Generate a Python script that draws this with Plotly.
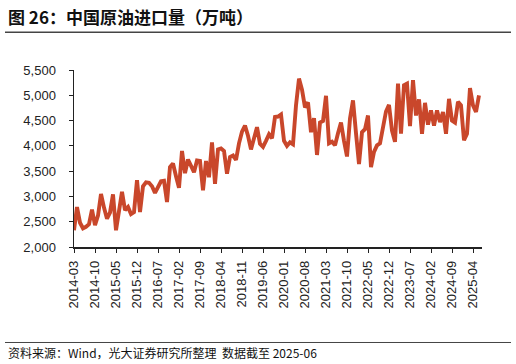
import plotly.graph_objects as go

# Monthly categories 2014-03 .. 2025-06
months = [f"{y}-{m:02d}" for y in range(2014, 2026) for m in range(1, 13)]
months = months[months.index("2014-03"):months.index("2025-06") + 1]

# China crude oil imports (10k tonnes)
imports = [
    2330, 2790, 2480, 2370, 2400, 2450, 2740, 2430, 2620, 3050,   # 2014-03..2014-12
    2780, 2560, 2680, 3040, 2330, 2760, 3090, 2730, 2790, 2650, 2690, 3320,  # 2015
    2690, 3200, 3280, 3270, 3200, 3070, 3200, 3300, 3310, 2890, 3580, 3650,  # 2016
    3400, 3170, 3900, 3460, 3730, 3600, 3480, 3710, 3700, 3120, 3700, 3380,  # 2017
    4070, 3250, 3930, 3950, 3900, 3450, 3780, 3810, 3720, 4050, 4280, 4400,  # 2018
    4200, 3930, 4150, 4370, 4040, 3980, 4100, 4230, 4150, 4570, 4580, 4620,  # 2019
    4100, 4000, 4070, 4030, 4800, 5330, 5110, 4760, 4860, 4270, 4550, 3820,  # 2020
    4460, 4490, 4990, 4050, 4080, 4010, 4250, 4460, 4100, 3790, 4540, 4900,  # 2021
    4250, 3640, 4270, 4330, 4600, 3580, 3880, 4010, 4050, 4400, 4680, 4810,  # 2022
    4300, 4080, 5230, 4240, 5200, 5230, 4390, 5300, 4600, 4920, 4240, 4850,  # 2023
    4420, 4700, 4400, 4700, 4470, 4670, 4240, 4930, 4500, 4460, 4870, 4800,  # 2024
    4110, 4240, 5140, 4800, 4670, 5000,                                      # 2025-01..06
]

x_ticks = months[::7]
y_ticks = [2000, 2500, 3000, 3500, 4000, 4500, 5000, 5500]

title_text = "图 26：中国原油进口量（万吨）"
source_text = "资料来源：Wind，光大证券研究所整理  数据截至 2025-06"

W, H = 516, 364
L, R, T, B = 74, 34, 69.5, 117.3
plot_h = H - T - B
plot_w = W - L - R

def px_to_paper_x(px):
    return (px - L) / plot_w

def px_to_paper_y(py):
    return (H - B - py) / plot_h

fig = go.Figure()
fig.add_trace(go.Scatter(
    x=months, y=imports, mode="lines",
    line=dict(color="#C9472B", width=3.9, shape="linear"),
    hoverinfo="skip", showlegend=False,
))

axis_font = dict(family="Liberation Sans, Arial, sans-serif", size=13, color="#222")

fig.update_layout(
    width=W, height=H,
    margin=dict(l=L, r=R, t=T, b=B, pad=0),
    paper_bgcolor="white", plot_bgcolor="white",
    xaxis=dict(
        type="category", range=[0, len(months)],
        tickmode="array", tickvals=x_ticks, ticktext=x_ticks,
        tickangle=-90, ticks="outside", ticklen=4, tickwidth=1, tickcolor="#222",
        showline=True, linecolor="#222", linewidth=1.5,
        showgrid=False, zeroline=False, tickfont=axis_font,
        ticklabelstandoff=3,
    ),
    yaxis=dict(
        range=[2000, 5500], tickmode="array", tickvals=y_ticks,
        tickformat=",", ticks="outside", ticklen=4, tickwidth=1, tickcolor="#222",
        showline=True, linecolor="#222", linewidth=1.5,
        showgrid=False, zeroline=False, tickfont=axis_font,
        ticklabelstandoff=10,
    ),
    font=dict(family="Noto Sans CJK SC, sans-serif"),
    shapes=[
        dict(type="line", xref="paper", yref="paper",
             x0=px_to_paper_x(5), x1=px_to_paper_x(511),
             y0=px_to_paper_y(31.7), y1=px_to_paper_y(31.7),
             line=dict(color="#444", width=1.5)),
        dict(type="line", xref="paper", yref="paper",
             x0=px_to_paper_x(5), x1=px_to_paper_x(511),
             y0=px_to_paper_y(342.3), y1=px_to_paper_y(342.3),
             line=dict(color="#444", width=1)),
    ],
    annotations=[
        dict(text=f"<b>{title_text}</b>", xref="paper", yref="paper",
             x=px_to_paper_x(6), y=px_to_paper_y(15.5), xanchor="left", yanchor="middle",
             showarrow=False,
             font=dict(family="Noto Sans CJK SC, sans-serif", size=17, color="#111")),
        dict(text=source_text, xref="paper", yref="paper",
             x=px_to_paper_x(6), y=px_to_paper_y(352.7), xanchor="left", yanchor="middle",
             showarrow=False,
             font=dict(family="Noto Sans CJK SC, sans-serif", size=12, color="#111")),
    ],
)

fig.write_html(
    "out.html",
    config={"displayModeBar": False, "staticPlot": True},
    post_script="document.body.style.margin='0';document.body.style.overflow='hidden';",
)
